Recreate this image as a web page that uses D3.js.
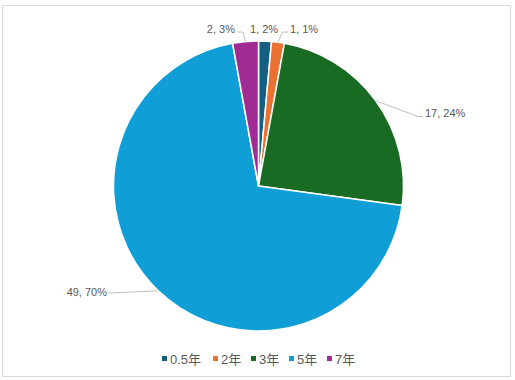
<!DOCTYPE html>
<html>
<head>
<meta charset="utf-8">
<script src="https://cdn.jsdelivr.net/npm/d3@7"></script>
<style>
  html, body { margin: 0; padding: 0; background: #fff; }
  svg { display: block; }
  text { font-family: "Liberation Sans", "Noto Sans CJK SC", sans-serif; }
</style>
</head>
<body>
<script>
// ---- data ----
const categories = ["0.5年", "2年", "3年", "5年", "7年"];
const values = [1, 1, 17, 49, 2];
const labelTexts = ["1, 2%", "1, 1%", "17, 24%", "49, 70%", "2, 3%"];
const colors = ["#156082", "#E97132", "#196B24", "#0F9ED5", "#A02B93"];

// ---- layout ----
const W = 515, H = 380;
const cx = 258.5, cy = 186, R = 145;
// label anchor [x, y, text-anchor], elbow point (or null) and text-edge point (or null)
const labelLayout = [
  { x: 264, y: 33, anchor: "middle", elbow: null, edge: null },
  { x: 290, y: 33, anchor: "start", elbow: [282.5, 32], edge: [288, 32] },
  { x: 425, y: 117, anchor: "start", elbow: [418, 116.5], edge: [423, 116.5] },
  { x: 107, y: 296, anchor: "end", elbow: null, edge: [108, 293] },
  { x: 235, y: 33, anchor: "end", elbow: [243, 32], edge: [237, 32] }
];

const svg = d3.select("body").append("svg").attr("width", W).attr("height", H);
svg.append("rect").attr("width", W).attr("height", H).attr("fill", "#fff");
svg.append("rect")
  .attr("x", 2.5).attr("y", 5.5).attr("width", 508).attr("height", 371)
  .attr("fill", "#fff").attr("stroke", "#d9d9d9").attr("stroke-width", 1);

const color = d3.scaleOrdinal().domain(categories).range(colors);
const pie = d3.pie().sort(null).value(d => d.v).startAngle(0).endAngle(2 * Math.PI);
const data = categories.map((c, i) => ({ c, v: values[i], label: labelTexts[i], lay: labelLayout[i] }));
const arcs = pie(data);
const arc = d3.arc().innerRadius(0).outerRadius(R);

const g = svg.append("g").attr("transform", `translate(${cx},${cy})`);
g.selectAll("path.slice").data(arcs).join("path")
  .attr("class", "slice")
  .attr("d", arc)
  .attr("fill", d => color(d.data.c))
  .attr("stroke", "#fff").attr("stroke-width", 1.5).attr("stroke-linejoin", "round");

// leader lines
arcs.forEach(d => {
  const L = d.data.lay;
  if (!L.edge) return;
  const mid = (d.startAngle + d.endAngle) / 2;
  const p0 = [cx + R * Math.sin(mid), cy - R * Math.cos(mid)];
  const pts = [p0];
  if (L.elbow) pts.push(L.elbow);
  pts.push(L.edge);
  svg.append("path")
    .attr("d", d3.line()(pts))
    .attr("fill", "none").attr("stroke", "#bfbfbf").attr("stroke-width", 1);
});

// labels
svg.selectAll("text.lbl").data(arcs).join("text")
  .attr("class", "lbl")
  .attr("x", d => d.data.lay.x).attr("y", d => d.data.lay.y)
  .attr("text-anchor", d => d.data.lay.anchor)
  .attr("font-size", 11).attr("fill", "#595959")
  .text(d => d.data.label);

// legend
const legendX = [162, 213, 251, 289, 327];
const lg = svg.append("g");
categories.forEach((c, i) => {
  lg.append("rect").attr("x", legendX[i]).attr("y", 356).attr("width", 5).attr("height", 5)
    .attr("fill", color(c));
  lg.append("text").attr("x", legendX[i] + 8).attr("y", 363.5)
    .attr("font-size", 13).attr("fill", "#595959").text(c);
});
</script>
</body>
</html>
